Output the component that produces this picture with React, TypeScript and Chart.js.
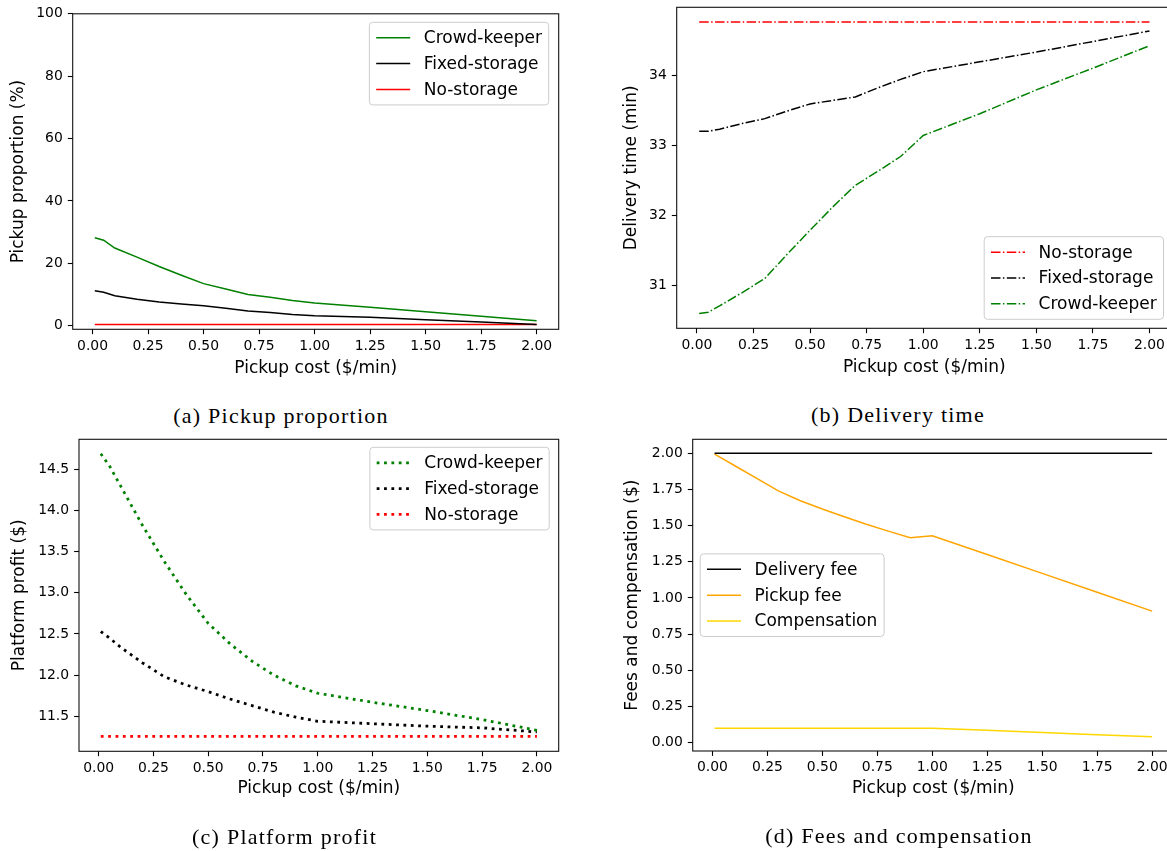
import React, { useEffect, useRef } from 'react';
import { Chart, registerables } from 'chart.js';
Chart.register(...registerables);

// ---------- data ----------
const pickupCost = [0.01, 0.05, 0.1, 0.2, 0.3, 0.4, 0.5, 0.6, 0.7, 0.8, 0.9, 1.0, 1.25, 1.5, 1.75, 2.0];
const xTicks = [0, 0.25, 0.5, 0.75, 1.0, 1.25, 1.5, 1.75, 2.0];

// (a) pickup proportion (%)
const propCrowd = [28.2, 27.4, 24.9, 22.0, 19.0, 16.2, 13.5, 11.8, 10.0, 9.1, 8.1, 7.3, 5.9, 4.5, 3.0, 1.6];
const propFixed = [11.2, 10.7, 9.6, 8.5, 7.6, 7.0, 6.4, 5.6, 4.7, 4.2, 3.6, 3.2, 2.7, 1.9, 1.2, 0.4];
const propNo = [0.4, 0.4, 0.4, 0.4, 0.4, 0.4, 0.4, 0.4, 0.4, 0.4, 0.4, 0.4, 0.4, 0.4, 0.4, 0.4];
const propTicks = [0, 20, 40, 60, 80, 100];

// (b) delivery time (min)
const timeNo = [34.76, 34.76, 34.76, 34.76, 34.76, 34.76, 34.76, 34.76, 34.76, 34.76, 34.76, 34.76, 34.76, 34.76, 34.76, 34.76];
const timeFixed = [33.2, 33.2, 33.23, 33.31, 33.38, 33.49, 33.59, 33.64, 33.69, 33.82, 33.94, 34.05, 34.19, 34.33, 34.48, 34.63];
const timeCrowd = [30.6, 30.62, 30.71, 30.9, 31.1, 31.45, 31.79, 32.12, 32.43, 32.63, 32.84, 33.14, 33.45, 33.79, 34.1, 34.42];
const timeTicks = [31, 32, 33, 34];

// (c) platform profit ($)
const profitCrowd = [14.69, 14.54, 14.3, 13.82, 13.38, 12.98, 12.63, 12.38, 12.17, 12.0, 11.87, 11.78, 11.67, 11.57, 11.46, 11.33];
const profitFixed = [12.53, 12.45, 12.34, 12.15, 11.98, 11.88, 11.8, 11.71, 11.63, 11.55, 11.49, 11.44, 11.41, 11.38, 11.36, 11.31];
const profitNo = [11.255, 11.255, 11.255, 11.255, 11.255, 11.255, 11.255, 11.255, 11.255, 11.255, 11.255, 11.255, 11.255, 11.255, 11.255, 11.255];
const profitTicks = [11.5, 12.0, 12.5, 13.0, 13.5, 14.0, 14.5];

// (d) fees and compensation ($)
const deliveryFee = [2.0, 2.0, 2.0, 2.0, 2.0, 2.0, 2.0, 2.0, 2.0, 2.0, 2.0, 2.0, 2.0, 2.0, 2.0, 2.0];
const pickupFee = [1.995, 1.96, 1.916, 1.828, 1.74, 1.672, 1.615, 1.562, 1.51, 1.462, 1.416, 1.43, 1.3, 1.17, 1.04, 0.909];
const compensation = [0.1, 0.1, 0.1, 0.1, 0.1, 0.1, 0.1, 0.1, 0.1, 0.1, 0.1, 0.1, 0.085, 0.07, 0.055, 0.04];
const feeTicks = [0, 0.25, 0.5, 0.75, 1.0, 1.25, 1.5, 1.75, 2.0];

// ---------- styling ----------
const FONT = 'DejaVu Sans';
const tickFont = { family: FONT, size: 13.9 };
const labelFont = { family: FONT, size: 17 };
const X_MIN = -0.0895;
const X_MAX = 2.0995;
const SOLID = 1.5;
const DASHDOT = [9.5, 2.4, 1.5, 2.4];
const DOT_W = 2.78;
const DOTTED = [2.78, 4.58];

const spinesPlugin = {
  id: 'spines',
  afterDatasetsDraw(chart: any) {
    const { ctx, chartArea: a } = chart;
    ctx.save();
    ctx.strokeStyle = '#111';
    ctx.lineWidth = 1.1;
    ctx.setLineDash([]);
    ctx.strokeRect(a.left, a.top, a.right - a.left, a.bottom - a.top);
    ctx.restore();
  },
};

const legendPlugin = {
  id: 'mplLegend',
  afterDraw(chart: any, _args: any, o: any) {
    if (!o || !o.loc) return;
    const { ctx, chartArea: ca } = chart;
    const fs = o.fontSize;
    ctx.save();
    ctx.font = `${fs}px "${FONT}"`;
    const ds = chart.data.datasets;
    const tw = Math.max(...ds.map((d: any) => ctx.measureText(d.label).width));
    const pad = 0.4 * fs, hl = 2 * fs, htp = 0.8 * fs, ls = 0.5 * fs, th = 1.02 * fs;
    const w = 2 * pad + hl + htp + tw;
    const h = 2 * pad + ds.length * th + (ds.length - 1) * ls;
    let x = 0, y = 0;
    if (o.loc === 'upper right') { x = ca.right - o.gapX - w; y = ca.top + o.gapY; }
    else if (o.loc === 'lower right') { x = ca.right - o.gapX - w; y = ca.bottom - o.gapY - h; }
    else { x = ca.left + o.gapX; y = (ca.top + ca.bottom) / 2 - h / 2; }
    ctx.beginPath();
    if (ctx.roundRect) ctx.roundRect(x, y, w, h, 0.2 * fs); else ctx.rect(x, y, w, h);
    ctx.fillStyle = 'rgba(255,255,255,0.8)';
    ctx.fill();
    ctx.lineWidth = 1;
    ctx.strokeStyle = '#cccccc';
    ctx.stroke();
    ds.forEach((d: any, i: number) => {
      const cy = y + pad + i * (th + ls) + th / 2;
      ctx.beginPath();
      ctx.setLineDash(d.borderDash || []);
      ctx.lineCap = 'butt';
      ctx.lineWidth = d.borderWidth;
      ctx.strokeStyle = d.borderColor;
      ctx.moveTo(x + pad, cy);
      ctx.lineTo(x + pad + hl, cy);
      ctx.stroke();
      ctx.setLineDash([]);
      ctx.fillStyle = '#000';
      ctx.textBaseline = 'middle';
      ctx.textAlign = 'left';
      ctx.fillText(d.label, x + pad + hl + htp, cy + 1);
    });
    ctx.restore();
  },
};

type Series = { label: string; values: number[]; color: string; width: number; dash?: number[] };
type PanelCfg = {
  x: number; y: number; w: number; h: number;
  left: number; top: number; right: number; bottom: number;
  yTitleCX: number; xTitleCY: number;
  yMin: number; yMax: number; yTicks: number[]; yDigits: number;
  yTitle: string;
  series: Series[];
  legend: any;
};

function makeConfig(p: PanelCfg): any {
  return {
    type: 'line',
    data: {
      datasets: p.series.map((s) => ({
        label: s.label,
        data: pickupCost.map((x, i) => ({ x, y: s.values[i] })),
        borderColor: s.color,
        backgroundColor: s.color,
        borderWidth: s.width,
        borderDash: s.dash || [],
        borderCapStyle: 'butt',
        pointRadius: 0,
        pointHoverRadius: 0,
        fill: false,
        tension: 0,
      })),
    },
    options: {
      responsive: false,
      maintainAspectRatio: false,
      animation: false,
      devicePixelRatio: 1,
      events: [],
      layout: { padding: { left: 0, top: p.top, right: p.w - p.right, bottom: 0 } },
      plugins: {
        legend: { display: false },
        tooltip: { enabled: false },
        mplLegend: p.legend,
      },
      scales: {
        x: {
          type: 'linear',
          position: 'bottom',
          min: X_MIN,
          max: X_MAX,
          afterBuildTicks: (s: any) => { s.ticks = xTicks.map((v) => ({ value: v })); },
          afterFit: (s: any) => {
            s.height = p.h - p.bottom;
            s.paddingLeft = 0; s.paddingRight = 0; s.paddingTop = 0; s.paddingBottom = 0;
          },
          ticks: {
            font: tickFont, color: '#000', padding: 3.6, maxRotation: 0, minRotation: 0, autoSkip: false,
            callback: (v: any) => Number(v).toFixed(2),
          },
          grid: { display: true, drawOnChartArea: false, drawTicks: true, tickLength: 4.9, tickWidth: 1.1, tickColor: '#000' },
          border: { display: false },
          title: {
            display: true, text: 'Pickup cost ($/min)', font: labelFont, color: '#000',
            padding: { top: 0, bottom: p.h - p.xTitleCY - 10.2 },
          },
        },
        y: {
          type: 'linear',
          position: 'left',
          min: p.yMin,
          max: p.yMax,
          afterBuildTicks: (s: any) => { s.ticks = p.yTicks.map((v) => ({ value: v })); },
          afterFit: (s: any) => {
            s.width = p.left;
            s.paddingLeft = 0; s.paddingRight = 0; s.paddingTop = 0; s.paddingBottom = 0;
          },
          ticks: {
            font: tickFont, color: '#000', padding: 5, autoSkip: false,
            callback: (v: any) => Number(v).toFixed(p.yDigits),
          },
          grid: { display: true, drawOnChartArea: false, drawTicks: true, tickLength: 4.9, tickWidth: 1.1, tickColor: '#000' },
          border: { display: false },
          title: {
            display: true, text: p.yTitle, font: labelFont, color: '#000',
            padding: { top: p.yTitleCX - 10.2, bottom: 0 },
          },
        },
      },
    },
    plugins: [spinesPlugin, legendPlugin],
  };
}

const panels: PanelCfg[] = [
  {
    x: 0, y: 0, w: 580, h: 395,
    left: 72.7, top: 13.8, right: 558.7, bottom: 329.3,
    yTitleCX: 19, xTitleCY: 368.5,
    yMin: -1.15, yMax: 100, yTicks: propTicks, yDigits: 0,
    yTitle: 'Pickup proportion (%)',
    series: [
      { label: 'Crowd-keeper', values: propCrowd, color: '#008000', width: SOLID },
      { label: 'Fixed-storage', values: propFixed, color: '#000000', width: SOLID },
      { label: 'No-storage', values: propNo, color: '#ff0000', width: SOLID },
    ],
    legend: { loc: 'upper right', gapX: 10, gapY: 8.5, fontSize: 17 },
  },
  {
    x: 600, y: 0, w: 580, h: 395,
    left: 76.7, top: 7.3, right: 572, bottom: 328.3,
    yTitleCX: 32, xTitleCY: 368,
    yMin: 30.39, yMax: 34.968, yTicks: timeTicks, yDigits: 0,
    yTitle: 'Delivery time (min)',
    series: [
      { label: 'No-storage', values: timeNo, color: '#ff0000', width: 1.5, dash: DASHDOT },
      { label: 'Fixed-storage', values: timeFixed, color: '#000000', width: 1.5, dash: DASHDOT },
      { label: 'Crowd-keeper', values: timeCrowd, color: '#008000', width: 1.5, dash: DASHDOT },
    ],
    legend: { loc: 'lower right', gapX: 8.5, gapY: 9, fontSize: 17 },
  },
  {
    x: 0, y: 430, w: 580, h: 420,
    left: 79, top: 9.3, right: 558.7, bottom: 321.3,
    yTitleCX: 20, xTitleCY: 359,
    yMin: 11.075, yMax: 14.865, yTicks: profitTicks, yDigits: 1,
    yTitle: 'Platform profit ($)',
    series: [
      { label: 'Crowd-keeper', values: profitCrowd, color: '#008000', width: DOT_W, dash: DOTTED },
      { label: 'Fixed-storage', values: profitFixed, color: '#000000', width: DOT_W, dash: DOTTED },
      { label: 'No-storage', values: profitNo, color: '#ff0000', width: DOT_W, dash: DOTTED },
    ],
    legend: { loc: 'upper right', gapX: 9.5, gapY: 8, fontSize: 17 },
  },
  {
    x: 600, y: 430, w: 580, h: 420,
    left: 92.7, top: 9.3, right: 574, bottom: 321,
    yTitleCX: 32.5, xTitleCY: 359,
    yMin: -0.058, yMax: 2.097, yTicks: feeTicks, yDigits: 2,
    yTitle: 'Fees and compensation ($)',
    series: [
      { label: 'Delivery fee', values: deliveryFee, color: '#000000', width: SOLID },
      { label: 'Pickup fee', values: pickupFee, color: '#FFA500', width: SOLID },
      { label: 'Compensation', values: compensation, color: '#FFD700', width: SOLID },
    ],
    legend: { loc: 'center left', gapX: 7.5, gapY: 0, fontSize: 17 },
  },
];

const captions = [
  { text: '(a) Pickup proportion', cx: 281, cy: 416 },
  { text: '(b) Delivery time', cx: 898, cy: 415 },
  { text: '(c) Platform profit', cx: 284.5, cy: 837 },
  { text: '(d) Fees and compensation', cx: 899, cy: 836 },
];

function Panel({ cfg }: { cfg: PanelCfg }) {
  const ref = useRef<HTMLCanvasElement>(null);
  useEffect(() => {
    const chart = new Chart(ref.current as HTMLCanvasElement, makeConfig(cfg));
    return () => chart.destroy();
  }, [cfg]);
  return (
    <div style={{ position: 'absolute', left: cfg.x, top: cfg.y, width: cfg.w, height: cfg.h }}>
      <canvas ref={ref} width={cfg.w} height={cfg.h} style={{ width: cfg.w, height: cfg.h, display: 'block' }} />
    </div>
  );
}

export default function App() {
  return (
    <div style={{ position: 'fixed', left: 0, top: 0, width: 1167, height: 851, overflow: 'hidden', background: '#fff' }}>
      {panels.map((p, i) => (
        <Panel key={i} cfg={p} />
      ))}
      {captions.map((c, i) => (
        <div
          key={'c' + i}
          style={{
            position: 'absolute', left: c.cx, top: c.cy, transform: 'translate(-50%, -50%)',
            fontFamily: '"Liberation Serif", serif', fontSize: 22, letterSpacing: '1.25px',
            whiteSpace: 'nowrap', lineHeight: 1, color: '#000',
          }}
        >
          {c.text}
        </div>
      ))}
    </div>
  );
}
